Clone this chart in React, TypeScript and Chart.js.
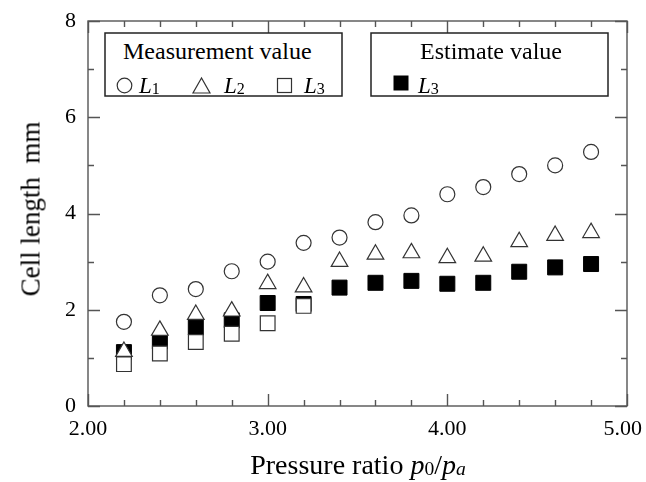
import React, { useEffect, useRef } from 'react';
import { Chart, registerables } from 'chart.js';

Chart.register(...registerables);

// ---- Data ----
const pressureRatio = [2.2, 2.4, 2.6, 2.8, 3.0, 3.2, 3.4, 3.6, 3.8, 4.0, 4.2, 4.4, 4.6, 4.8];
const measuredL1 = [1.75, 2.30, 2.43, 2.80, 3.00, 3.39, 3.50, 3.82, 3.96, 4.40, 4.55, 4.82, 5.00, 5.28];
const measuredL2 = [1.13, 1.57, 1.90, 1.97, 2.54, 2.47, 3.00, 3.15, 3.18, 3.08, 3.11, 3.41, 3.54, 3.60];
const measuredL3Ratio = [2.2, 2.4, 2.6, 2.8, 3.0, 3.2];
const measuredL3 = [0.87, 1.09, 1.33, 1.50, 1.72, 2.08];
const estimatedL3 = [1.12, 1.34, 1.63, 1.78, 2.14, 2.12, 2.46, 2.56, 2.60, 2.54, 2.56, 2.79, 2.88, 2.95];
const xTickValues = [2, 3, 4, 5];
const yTickValues = [0, 2, 4, 6, 8];

const FONT = '"Liberation Serif", "Times New Roman", serif';
const STROKE = '#333';
const FRAME = '#555';
const fmtX = (v: number) => Number(v).toFixed(2);

const framePlugin = {
  id: 'frameTicks',
  beforeDatasetsDraw(chart: any) {
    const { ctx, chartArea, scales } = chart;
    const { left, right, top, bottom } = chartArea;
    const xs = scales.x;
    const ys = scales.y;
    ctx.save();
    ctx.strokeStyle = FRAME;
    ctx.lineWidth = 1.4;
    ctx.strokeRect(left, top, right - left, bottom - top);
    ctx.beginPath();
    for (let i = 0; i <= 15; i++) {
      const v = 2 + i * 0.2;
      const px = Math.round(xs.getPixelForValue(v)) + 0.5;
      const len = i % 5 === 0 ? 12 : 6;
      ctx.moveTo(px, bottom);
      ctx.lineTo(px, bottom - len);
      ctx.moveTo(px, top);
      ctx.lineTo(px, top + len);
    }
    for (let v = 0; v <= 8; v++) {
      const py = Math.round(ys.getPixelForValue(v)) + 0.5;
      const len = v % 2 === 0 ? 12 : 6;
      ctx.moveTo(left, py);
      ctx.lineTo(left + len, py);
      ctx.moveTo(right, py);
      ctx.lineTo(right - len, py);
    }
    ctx.stroke();
    ctx.restore();
  },
  afterDraw(chart: any) {
    // x tick labels, kept inside the canvas
    const { ctx, chartArea, scales } = chart;
    const xs = scales.x;
    ctx.save();
    ctx.font = `22px ${FONT}`;
    ctx.fillStyle = '#000';
    ctx.textAlign = 'center';
    ctx.textBaseline = 'middle';
    for (const t of xs.ticks) {
      const label = fmtX(t.value);
      const w = ctx.measureText(label).width;
      let px = xs.getPixelForValue(t.value);
      px = Math.min(px, chart.width - 4 - w / 2);
      ctx.fillText(label, px, chartArea.bottom + 23);
    }
    ctx.restore();
  },
};

function Txt(props: { x: number; base: number; size: number; children: any; center?: boolean }) {
  const { x, base, size, children, center } = props;
  return (
    <div
      style={{
        position: 'absolute',
        left: x,
        top: base - 0.8375 * size,
        fontSize: size,
        lineHeight: 1,
        whiteSpace: 'nowrap',
        fontFamily: FONT,
        color: '#000',
        transform: center ? 'translateX(-50%)' : undefined,
      }}
    >
      {children}
    </div>
  );
}

const Sub = (props: { children: any; italic?: boolean }) => (
  <span style={{ fontSize: '0.7em', position: 'relative', top: '0.08em', fontStyle: props.italic ? 'italic' : 'normal' }}>
    {props.children}
  </span>
);

export default function App() {
  const canvasRef = useRef<HTMLCanvasElement | null>(null);

  useEffect(() => {
    document.body.style.margin = '0';
    const canvas = canvasRef.current;
    if (!canvas) return;
    const hollow = { pointBackgroundColor: '#ffffff', pointBorderColor: STROKE, pointBorderWidth: 1.2, showLine: false };
    const toPoints = (xs: number[], ys: number[]) => xs.map((x, i) => ({ x, y: ys[i] }));
    const chart = new Chart(canvas, {
      type: 'scatter',
      data: {
        datasets: [
          { label: 'L1 measured', data: toPoints(pressureRatio, measuredL1), pointStyle: 'circle', pointRadius: 7.5, order: 0, ...hollow },
          { label: 'L2 measured', data: toPoints(pressureRatio, measuredL2), pointStyle: 'triangle', pointRadius: 9.6, order: 0, ...hollow },
          { label: 'L3 measured', data: toPoints(measuredL3Ratio, measuredL3), pointStyle: 'rect', pointRadius: 10.4, order: 0, ...hollow },
          {
            label: 'L3 estimate',
            data: toPoints(pressureRatio, estimatedL3),
            pointStyle: 'rect',
            pointRadius: 10.6,
            pointBackgroundColor: '#000',
            pointBorderColor: '#000',
            pointBorderWidth: 1,
            showLine: false,
            order: 1,
          },
        ] as any,
      },
      options: {
        responsive: false,
        animation: false,
        devicePixelRatio: 1,
        layout: { padding: { top: 21, right: 19, left: 0, bottom: 0 } },
        plugins: { legend: { display: false }, tooltip: { enabled: false } },
        scales: {
          x: {
            type: 'linear',
            min: 2,
            max: 5,
            afterBuildTicks: (s: any) => {
              s.ticks = xTickValues.map((v) => ({ value: v }));
            },
            ticks: {
              display: false,
              callback: (v: any) => fmtX(v),
              font: { family: FONT, size: 22 },
              color: '#000',
              padding: 10,
              maxRotation: 0,
              autoSkip: false,
            },
            grid: { display: false, drawTicks: false },
            border: { display: false },
            afterFit: (s: any) => {
              s.height = 76;
              s.paddingLeft = 0;
              s.paddingRight = 0;
            },
          },
          y: {
            type: 'linear',
            min: 0,
            max: 8,
            afterBuildTicks: (s: any) => {
              s.ticks = yTickValues.map((v) => ({ value: v }));
            },
            ticks: {
              font: { family: FONT, size: 22 },
              color: '#000',
              padding: 12,
              autoSkip: false,
            },
            grid: { display: false, drawTicks: false },
            border: { display: false },
            afterFit: (s: any) => {
              s.width = 88;
              s.paddingTop = 0;
              s.paddingBottom = 0;
            },
          },
        },
      } as any,
      plugins: [framePlugin],
    });
    return () => chart.destroy();
  }, []);

  return (
    <div style={{ position: 'relative', width: 646, height: 482, background: '#fff', fontFamily: FONT, overflow: 'hidden' }}>
      <canvas ref={canvasRef} width={646} height={482} style={{ display: 'block', width: 646, height: 482 }} />
      <svg width={646} height={482} style={{ position: 'absolute', left: 0, top: 0, pointerEvents: 'none' }}>
        <rect x={105} y={33} width={237} height={63} fill="#fff" stroke="#222" strokeWidth={1.5} />
        <rect x={371} y={33} width={237} height={63} fill="#fff" stroke="#222" strokeWidth={1.5} />
        <circle cx={124.5} cy={85.5} r={7.3} fill="#fff" stroke={STROKE} strokeWidth={1.2} />
        <polygon points="201.5,78 193,93 210,93" fill="#fff" stroke={STROKE} strokeWidth={1.2} />
        <rect x={277.5} y={78.5} width={14} height={14} fill="#fff" stroke={STROKE} strokeWidth={1.2} />
        <rect x={394} y={76} width={14} height={14} fill="#000" stroke="#000" strokeWidth={1} />
      </svg>
      <Txt x={123} base={59} size={24}>Measurement value</Txt>
      <Txt x={139} base={93} size={23}><i>L</i><Sub>1</Sub></Txt>
      <Txt x={224} base={93} size={23}><i>L</i><Sub>2</Sub></Txt>
      <Txt x={304} base={93} size={23}><i>L</i><Sub>3</Sub></Txt>
      <Txt x={420} base={59} size={24}>Estimate value</Txt>
      <Txt x={418} base={93} size={23}><i>L</i><Sub>3</Sub></Txt>
      <Txt x={358} base={474} size={28} center>
        Pressure ratio <i>p</i><Sub>0</Sub>/<i>p</i><Sub italic>a</Sub>
      </Txt>
      <div
        style={{
          position: 'absolute',
          left: 31,
          top: 209,
          fontSize: 27,
          lineHeight: 1,
          whiteSpace: 'pre',
          fontFamily: FONT,
          color: '#000',
          transform: 'translate(-50%, -50%) rotate(-90deg)',
        }}
      >
        {'Cell length  mm'}
      </div>
    </div>
  );
}
